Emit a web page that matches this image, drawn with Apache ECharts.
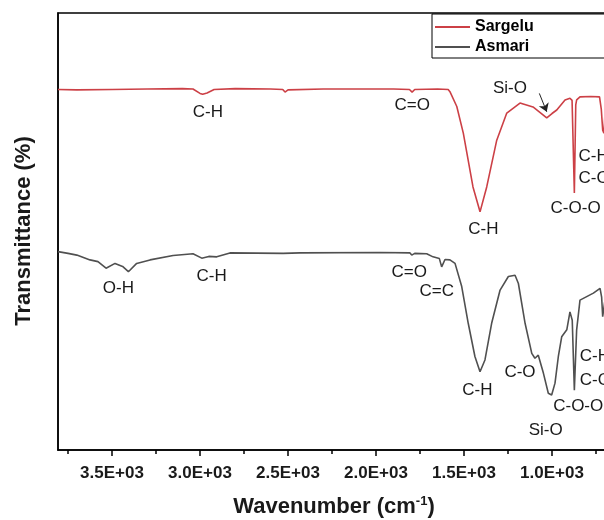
<!DOCTYPE html>
<html>
<head>
<meta charset="utf-8">
<script src="https://cdn.jsdelivr.net/npm/echarts@6/dist/echarts.min.js"></script>
<style>
  html, body { margin: 0; padding: 0; background: #fff; overflow: hidden; }
  /* the figure is cropped on the right, so the chart runs past the window */
  #ftirChart { width: 640px; height: 520px; }
</style>
</head>
<body>
<div id="ftirChart"></div>
<script>
// wavenumber (cm-1) / transmittance (arbitrary %, offset traces)
const wnSargelu = [3807, 3700, 3500, 3300, 3100, 3040, 3000, 2985, 2960, 2920, 2800, 2600, 2530, 2517, 2500,
  2300, 2100, 1900, 1810, 1795, 1780, 1650, 1590, 1580, 1541, 1504, 1449, 1409, 1371, 1314, 1257, 1182,
  1108, 1060, 1030, 1000, 973, 926, 898, 886, 873, 865, 860, 841, 780, 730, 720, 712, 705, 695];
const trSargelu = [82.5, 82.4, 82.5, 82.6, 82.7, 82.6, 81.6, 81.4, 81.7, 82.5, 82.7, 82.6, 82.5, 81.9, 82.4,
  82.6, 82.6, 82.6, 82.5, 81.9, 82.5, 82.6, 82.5, 82.0, 78.6, 72.5, 60.2, 54.5, 60.2, 70.9, 77.1, 79.4,
  78.5, 77.0, 76.0, 77.0, 77.8, 80.1, 80.5, 80.0, 58.8, 79.0, 80.1, 80.8, 80.9, 80.8, 78.0, 73.2, 72.5, 80.0];

const wnAsmari = [3807, 3750, 3700, 3625, 3580, 3534, 3483, 3440, 3407, 3360, 3284, 3153, 3040, 2990, 2950,
  2905, 2830, 2528, 2517, 2432, 1977, 1807, 1797, 1780, 1712, 1676, 1640, 1627, 1608, 1580, 1551, 1513,
  1476, 1438, 1409, 1381, 1343, 1295, 1248, 1210, 1191, 1153, 1115, 1097, 1078, 1049, 1021, 1002, 983,
  964, 945, 916, 898, 885, 873, 860, 841, 803, 765, 727, 718, 712, 700];
const trAsmari = [45.4, 45.0, 44.6, 43.5, 43.1, 41.6, 42.7, 42.0, 40.8, 42.7, 43.5, 44.5, 44.9, 43.9, 44.3,
  44.2, 45.1, 45.0, 44.6, 45.1, 45.2, 45.1, 44.6, 45.0, 44.9, 44.2, 43.8, 41.9, 43.6, 43.5, 42.7, 37.4,
  29.0, 21.4, 17.9, 20.6, 29.0, 36.6, 39.7, 40.0, 38.1, 29.0, 22.1, 21.0, 21.7, 17.6, 13.0, 12.6, 15.3,
  21.4, 25.9, 27.5, 31.6, 29.7, 13.7, 27.5, 34.3, 35.1, 35.9, 37.0, 35.0, 30.5, 34.0];

const majorTicks = [1000, 1500, 2000, 2500, 3000, 3500];
const minorTicks = [750, 1250, 1750, 2250, 2750, 3250, 3750];

// band labels: [text, wavenumber, transmittance, anchor]
const sargeluNotes = [
  ["C-H", 2955, 77.2, "c"], ["C=O", 1794, 78.9, "c"], ["Si-O", 1239, 82.8, "c"],
  ["C-H", 1390, 50.5, "c"], ["C-O-O", 1011, 55.3, "l"], ["C-H", 852, 67.1, "l"], ["C-O", 852, 62.2, "l"]
];
const asmariNotes = [
  ["O-H", 3464, 37.0, "c"], ["C-H", 2934, 39.8, "c"], ["C=O", 1811, 40.6, "c"], ["C=C", 1655, 36.4, "c"],
  ["C-H", 1424, 13.7, "c"], ["C-O", 1182, 17.7, "c"], ["Si-O", 1036, 4.6, "c"],
  ["C-O-O", 996, 9.9, "l"], ["C-H", 845, 21.4, "l"], ["C-O", 845, 16.0, "l"]
];
const siArrow = [[1072, 81.6], [1030, 77.4]];

const FONT = "Liberation Sans, Arial, sans-serif";

function notePoints(notes) {
  return notes.map((n) => ({
    name: n[0],
    coord: [n[1], n[2]],
    label: n[3] === "l" ? { position: "right", distance: 0 } : { position: "inside" }
  }));
}

function marks(notes) {
  return {
    symbol: "circle",
    symbolSize: 1,
    silent: true,
    itemStyle: { color: "transparent" },
    label: { show: true, formatter: "{b}", color: "#1a1a1a", fontSize: 17, fontFamily: FONT },
    data: notePoints(notes)
  };
}

var chartDom = document.getElementById("ftirChart");
var myChart = echarts.init(chartDom);
var option;

option = {
  animation: false,
  grid: {
    left: 58, top: 13, bottom: 70, right: 0,
    show: true, borderColor: "#000", borderWidth: 1.5
  },
  legend: {
    left: 432, top: 14,
    orient: "vertical",
    icon: "rect",
    itemWidth: 35, itemHeight: 2, itemGap: 4,
    padding: [5, 110, 3, 3],
    borderColor: "#000", borderWidth: 1,
    backgroundColor: "#fff",
    textStyle: { fontSize: 16, fontWeight: "bold", color: "#000", fontFamily: FONT },
    data: ["Sargelu", "Asmari"]
  },
  xAxis: [
    {
      type: "value", inverse: true, min: 500, max: 3807,
      axisLine: { lineStyle: { color: "#000", width: 1.5 } },
      axisTick: { customValues: majorTicks, length: 6, lineStyle: { color: "#000", width: 1.5 } },
      axisLabel: {
        customValues: majorTicks, margin: 15,
        fontSize: 17, fontWeight: "bold", color: "#1a1a1a", fontFamily: FONT,
        formatter: (v) => (v / 1000).toFixed(1) + "E+03"
      },
      splitLine: { show: false }
    },
    {
      type: "value", inverse: true, min: 500, max: 3807, position: "bottom",
      axisLine: { show: false },
      axisTick: { customValues: minorTicks, length: 4, lineStyle: { color: "#000", width: 1.5 } },
      axisLabel: { show: false },
      splitLine: { show: false }
    }
  ],
  yAxis: {
    type: "value", min: 0, max: 100,
    axisLine: { show: true, lineStyle: { color: "#000", width: 1.5 } },
    axisTick: { show: false },
    axisLabel: { show: false },
    splitLine: { show: false }
  },
  graphic: [
    {
      type: "text", x: 334, y: 507,
      style: {
        text: "Wavenumber (cm{sup|-1})",
        align: "center", verticalAlign: "middle",
        font: "bold 22px " + FONT, fill: "#1a1a1a",
        rich: { sup: { fontSize: 13, fontWeight: "bold", verticalAlign: "top", padding: [0, 0, 12, 0] } }
      }
    },
    {
      type: "text", x: 24, y: 231, rotation: Math.PI / 2,
      style: {
        text: "Transmittance (%)", align: "center", verticalAlign: "middle",
        font: "bold 22px " + FONT, fill: "#1a1a1a"
      }
    }
  ],
  series: [
    {
      name: "Sargelu",
      type: "line",
      symbol: "none",
      lineStyle: { color: "#cc4046", width: 1.6 },
      itemStyle: { color: "#cc4046" },
      data: wnSargelu.map((w, i) => [w, trSargelu[i]]),
      markPoint: marks(sargeluNotes),
      markLine: {
        silent: true,
        symbol: ["none", "arrow"],
        symbolSize: 8,
        label: { show: false },
        lineStyle: { color: "#222", width: 1, type: "solid" },
        data: [[{ coord: siArrow[0] }, { coord: siArrow[1] }]]
      }
    },
    {
      name: "Asmari",
      type: "line",
      symbol: "none",
      lineStyle: { color: "#505050", width: 1.6 },
      itemStyle: { color: "#505050" },
      data: wnAsmari.map((w, i) => [w, trAsmari[i]]),
      markPoint: marks(asmariNotes)
    }
  ]
};

option && myChart.setOption(option);
</script>
</body>
</html>
